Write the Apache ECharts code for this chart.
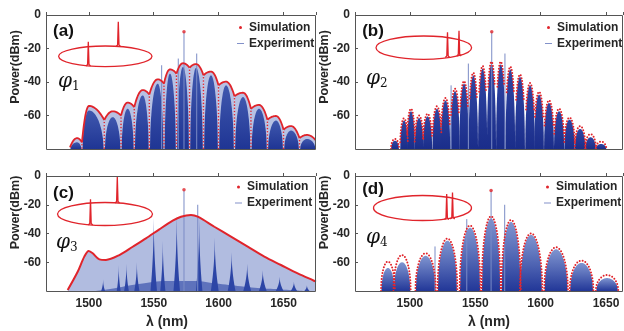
<!DOCTYPE html>
<html>
<head>
<meta charset="utf-8">
<script src="https://cdn.jsdelivr.net/npm/echarts@6/dist/echarts.min.js"></script>
<style>
  html, body { margin: 0; padding: 0; background: #fff; }
  #chart { width: 624px; height: 331px; }
</style>
</head>
<body>
<div id="chart"></div>
<script>
// ---------- data (wavelength nm, power dBm) ----------

// (a) phi1 : scalloped simulation envelope (peaks + cusps), measured lobes
var aPeakWl = [1490.9, 1500.1, 1518.4, 1529.9, 1541.5, 1553.1, 1562.5, 1572.5, 1582.6, 1594.1, 1605.7, 1618.8, 1631.1, 1644.2, 1655.8, 1668.1]
var aPeakDb = [-73.5, -54.3, -57.5, -52.3, -44.8, -38.4, -32.5, -28.8, -29.3, -33.8, -39.8, -46.4, -53.7, -60.3, -66.3, -71.6]
var aCuspWl = [1485.5, 1494.7, 1511.9, 1524.8, 1535.0, 1546.6, 1557.9, 1567.5, 1577.6, 1588.3, 1599.9, 1612.2, 1624.9, 1637.6, 1650.0, 1662.3, 1675.0]
var aCuspDb = [-79, -76, -62.7, -60, -55, -47.5, -41, -35, -31.5, -36, -42, -48.5, -56, -62.5, -68.5, -73.5, -75]
var aExpDb = [-76, -57, -61, -56, -48, -41, -35, -31, -31.5, -36, -42, -49, -56, -63, -69, -74]
var aSpikeWl = [1556.1, 1568.9, 1573.3, 1583.1]
var aSpikeDb = [-30, -26, -10, -23]
var aPump = [1573.3, -10]

// (b) phi2 : narrow lobes
var bWl = [1488.6, 1495.5, 1500.8, 1507.0, 1513.5, 1520.7, 1527.2, 1534.5, 1541.4, 1548.5, 1555.6, 1562.4, 1569.5, 1576.8, 1584.2, 1591.9, 1598.8, 1606.4, 1614.1, 1622.1, 1630.2, 1638.2, 1646.2]
var bSimDb = [-74, -61.7, -56, -60, -59, -54.5, -49.5, -44, -39.5, -34.5, -30.4, -27.9, -27.9, -30.8, -35.5, -40.6, -45.8, -51, -56, -61.2, -66.3, -71.1, -75.6]
var bExpDb = [-75, -63, -57.5, -61.5, -60.5, -56, -51, -45.5, -41, -36, -32, -29.5, -29.5, -32.5, -37, -42, -47.5, -52.5, -57.5, -62.5, -68, -73, -77]
var bHalf = [3.0, 2.9, 3.0, 3.3, 3.5, 3.5, 3.6, 3.6, 3.6, 3.6, 3.5, 3.5, 3.6, 3.7, 3.8, 3.7, 3.7, 3.8, 3.9, 4.0, 4.0, 4.0, 4.0]
var bSpikeWl = [1531.5, 1544.7, 1562.6, 1572.7]
var bSpikeDb = [-42, -29, -10, -23]
var bPump = [1562.6, -10]

// (c) phi3 : smooth envelope, comb clusters
var cWl = [1483.7, 1491.4, 1496.5, 1499.9, 1503.0, 1508.1, 1513.2, 1523.5, 1533.8, 1544.0, 1554.3, 1564.6, 1571.0, 1578.7, 1583.9, 1596.7, 1609.5, 1622.4, 1635.2, 1648.0, 1660.9, 1675.0]
var cSimDb = [-79.3, -66.6, -56.1, -52.2, -53.8, -58.0, -58.4, -55.0, -49.2, -43.4, -37.1, -31.1, -28.3, -27.1, -28.3, -35.3, -42.2, -49.2, -56.1, -61.9, -67.7, -73.5]
var cClusterWl = [1511, 1523, 1529, 1537, 1550, 1557, 1567.7, 1585, 1597, 1610, 1622, 1634, 1647, 1658, 1668]
var cClusterDb = [-72, -62, -61, -60, -29, -45, -27.5, -30, -43, -53, -61, -65.5, -70, -73.5, -76]
var cClusterHalf = [1.5, 1.5, 1.8, 2, 2.5, 2, 2.5, 2.5, 3, 3, 3, 3, 3, 2.5, 2]
var cFloorWl = [1505, 1520, 1540, 1560, 1580, 1600, 1620, 1640, 1665]
var cFloorDb = [-80, -78, -75, -73, -73, -75, -77, -78.5, -80]
var cSpikeWl = [1573.3, 1583.9]
var cSpikeDb = [-10, -20]
var cPump = [1573.3, -9.5]

// (d) phi4 : wide lobes
var dWl = [1483.2, 1494.0, 1512.0, 1528.7, 1546.0, 1562.1, 1577.4, 1592.7, 1611.8, 1631.3, 1650.8]
var dSimDb = [-59.5, -55, -53.8, -43.5, -34.5, -28, -30.6, -39.9, -49.6, -58.8, -68.9]
var dExpDb = [-64, -60, -55.5, -45, -36, -29.5, -32, -41, -51, -60.5, -71]
var dHalf = [5.0, 6.3, 7.5, 7.3, 7.7, 7.0, 7.2, 8.3, 8.8, 8.8, 8.3]
var dSpikeWl = [1519.2, 1543.5, 1562.1, 1572.5]
var dSpikeDb = [-49, -30, -10, -20]
var dPump = [1562.1, -10]

// ---------- look ----------
var FONT = "'Liberation Sans', Arial, sans-serif"
var FLOOR = -80
var RED = '#e0242b'
var INK = '#262626'
var SPIKE = '#7b8cc6'

var GRIDS = [
  { left: 46, top: 15, width: 270, height: 134 },
  { left: 355, top: 15, width: 268, height: 134 },
  { left: 46, top: 176, width: 270, height: 115 },
  { left: 355, top: 176, width: 268, height: 115 },
]

function vgrad(top, bottom) {
  return { type: 'linear', x: 0, y: 0, x2: 0, y2: 1, colorStops: [{ offset: 0, color: top }, { offset: 1, color: bottom }] }
}

// lobe: [centre, top, halfLeft, halfRight]
function lobeRenderer(p, q, fill) {
  return function (params, api) {
    var c = api.value(0), top = api.value(1), hl = api.value(2), hr = api.value(3)
    var pts = []
    for (var i = 0; i <= 40; i++) {
      var u = i / 20 - 1
      var hw = u < 0 ? hl : hr
      var h = Math.pow(Math.max(0, 1 - Math.pow(Math.abs(u), p)), 1 / q)
      pts.push(api.coord([c + u * hw, FLOOR + (top - FLOOR) * h]))
    }
    return { type: 'polygon', shape: { points: pts }, style: { fill: fill } }
  }
}

// dotted simulation arc over a lobe: [centre, top, half, cut]
function arcRenderer(width, dash) {
  return function (params, api) {
    var c = api.value(0), top = api.value(1), hw = api.value(2), cut = api.value(3)
    var pts = []
    for (var i = 0; i <= 80; i++) {
      var u = i / 40 - 1
      var db = FLOOR + (top - FLOOR) * Math.sqrt(Math.max(0, 1 - u * u))
      if (db >= top - cut) pts.push(api.coord([c + u * hw, db]))
    }
    return { type: 'polyline', shape: { points: pts }, style: { stroke: RED, fill: null, lineWidth: width, lineDash: dash, lineCap: 'round' } }
  }
}

// scallop: [cuspL, dbL, peak, dbPeak, cuspR, dbR]
function scallopRenderer(filled) {
  return function (params, api) {
    var xl = api.value(0), yl = api.value(1), xp = api.value(2), yp = api.value(3), xr = api.value(4), yr = api.value(5)
    var pts = []
    for (var i = 0; i <= 16; i++) {
      var u = 1 - i / 16
      pts.push(api.coord([xp - u * (xp - xl), yp + (yl - yp) * u * u]))
    }
    for (var j = 1; j <= 16; j++) {
      var v = j / 16
      pts.push(api.coord([xp + v * (xr - xp), yp + (yr - yp) * v * v]))
    }
    if (filled) {
      pts.push(api.coord([xr, FLOOR]))
      pts.push(api.coord([xl, FLOOR]))
      return { type: 'polygon', shape: { points: pts }, style: { fill: '#b7c1e3' } }
    }
    return { type: 'polyline', shape: { points: pts }, style: { stroke: RED, fill: null, lineWidth: 1.8 } }
  }
}

function dropRenderer(params, api) {
  var a = api.coord([api.value(0), api.value(1) - 1.5])
  var b = api.coord([api.value(0), FLOOR])
  return { type: 'line', shape: { x1: a[0], y1: a[1], x2: b[0], y2: b[1] }, style: { stroke: RED, lineWidth: 1.6, lineDash: [0, 3.2], lineCap: 'round' } }
}

function spikeRenderer(color) {
  return function (params, api) {
    var a = api.coord([api.value(0), api.value(1)])
    var b = api.coord([api.value(0), FLOOR])
    return { type: 'line', shape: { x1: a[0], y1: a[1], x2: b[0], y2: b[1] }, style: { stroke: color, lineWidth: 1 } }
  }
}

function zip(xs, ys) {
  return xs.map(function (x, i) { return [x, ys[i]] })
}

function custom(gi, z, name, render, data) {
  var s = { type: 'custom', xAxisIndex: gi, yAxisIndex: gi, z: z, silent: true, clip: true, renderItem: render, data: data }
  if (name) s.name = name
  return s
}

function pumpDot(gi, pt) {
  return { name: 'Simulation', type: 'scatter', xAxisIndex: gi, yAxisIndex: gi, z: 6, silent: true, symbolSize: 3.5, itemStyle: { color: RED }, data: [pt] }
}

var series = []

// (a)
var aArcRows = aPeakWl.map(function (w, i) {
  return [aCuspWl[i], aCuspDb[i], w, aPeakDb[i], aCuspWl[i + 1], aCuspDb[i + 1]]
})
var aLobeRows = aPeakWl.map(function (w, i) {
  return [w, aExpDb[i], w - aCuspWl[i] - 0.5, aCuspWl[i + 1] - w - 0.5]
})
series.push(custom(0, 1, null, scallopRenderer(true), aArcRows))
series.push(custom(0, 2, 'Experiment', lobeRenderer(2, 1.8, vgrad('#4058ae', '#1f3594')), aLobeRows))
series.push(custom(0, 3, null, spikeRenderer(SPIKE), zip(aSpikeWl, aSpikeDb)))
series.push(custom(0, 4, 'Simulation', scallopRenderer(false), aArcRows))
series.push(custom(0, 4, null, dropRenderer, zip(aCuspWl, aCuspDb).slice(1, -1)))
series.push(pumpDot(0, aPump))

// (b)
series.push(custom(1, 2, 'Experiment', lobeRenderer(2, 2, vgrad('#2f46a3', '#1a2d8a')),
  bWl.map(function (w, i) { return [w, bExpDb[i], bHalf[i], bHalf[i]] })))
series.push(custom(1, 3, null, spikeRenderer(SPIKE), zip(bSpikeWl, bSpikeDb)))
series.push(custom(1, 4, 'Simulation', arcRenderer(2, [0, 3]),
  bWl.map(function (w, i) { return [w, bSimDb[i], bHalf[i] + 0.1, 16] })))
series.push(pumpDot(1, bPump))

// (c)
series.push({
  type: 'line', xAxisIndex: 2, yAxisIndex: 2, z: 1, silent: true, smooth: 0.3, symbol: 'none',
  lineStyle: { width: 0 }, areaStyle: { color: '#b1bce0', opacity: 1, origin: 'start' },
  data: zip(cWl, cSimDb),
})
series.push({
  type: 'line', xAxisIndex: 2, yAxisIndex: 2, z: 2, silent: true, smooth: 0.4, symbol: 'none',
  lineStyle: { width: 0 }, areaStyle: { color: '#3a52ad', opacity: 0.7, origin: 'start' },
  data: zip(cFloorWl, cFloorDb),
})
series.push(custom(2, 2, 'Experiment', lobeRenderer(0.5, 1, '#2c45a6'),
  cClusterWl.map(function (w, i) { return [w, cClusterDb[i], cClusterHalf[i], cClusterHalf[i]] })))
series.push(custom(2, 3, null, spikeRenderer(SPIKE), zip(cSpikeWl, cSpikeDb)))
series.push({
  name: 'Simulation', type: 'line', xAxisIndex: 2, yAxisIndex: 2, z: 4, silent: true, smooth: 0.3, symbol: 'none',
  lineStyle: { color: RED, width: 2 }, data: zip(cWl, cSimDb),
})
series.push(pumpDot(2, cPump))

// (d)
series.push(custom(3, 2, 'Experiment', lobeRenderer(2, 2, vgrad('#8095d0', '#223798')),
  dWl.map(function (w, i) { return [w, dExpDb[i], dHalf[i], dHalf[i]] })))
series.push(custom(3, 3, null, spikeRenderer(SPIKE), zip(dSpikeWl, dSpikeDb)))
series.push(custom(3, 4, 'Simulation', arcRenderer(2, [0, 3]),
  dWl.map(function (w, i) { return [w, dSimDb[i], dHalf[i] + 0.3, 76] })))
series.push(pumpDot(3, dPump))

// ---------- axes ----------
var X_RANGE = [[1467, 1675], [1458, 1663], [1467, 1675], [1458, 1663]]
var NAME_SHIFT_Y = [30, 30, 42, 42]
var NAME_SHIFT_X = [0, 0, 28, 0]

var xAxes = GRIDS.map(function (g, gi) {
  var bottom = gi >= 2
  return {
    gridIndex: gi, type: 'value', min: X_RANGE[gi][0], max: X_RANGE[gi][1], splitNumber: 4,
    axisLine: { show: false },
    axisTick: { show: true, inside: true, length: 3, lineStyle: { color: '#555' } },
    splitLine: { show: false },
    axisLabel: {
      show: bottom, margin: 7, color: INK, fontFamily: FONT, fontWeight: 'bold', fontSize: 12,
      formatter: function (v) { return v % 50 === 0 ? String(v) : '' },
    },
    name: bottom ? 'λ (nm)' : '',
    nameLocation: 'middle', nameGap: 24, nameMoveOverlap: false,
    nameTextStyle: { color: INK, fontFamily: FONT, fontWeight: 'bold', fontSize: 14, padding: [0, NAME_SHIFT_X[gi], 0, 0] },
  }
})

var yAxes = GRIDS.map(function (g, gi) {
  return {
    gridIndex: gi, type: 'value', min: -80, max: 0, interval: 20,
    axisLine: { show: false },
    axisTick: { show: true, inside: true, length: 3, lineStyle: { color: '#555' } },
    splitLine: { show: false },
    axisLabel: { showMinLabel: false, margin: 5, color: INK, fontFamily: FONT, fontWeight: 'bold', fontSize: 12 },
    name: 'Power(dBm)', nameLocation: 'middle', nameGap: 24, nameMoveOverlap: false,
    nameTextStyle: { color: INK, fontFamily: FONT, fontWeight: 'bold', fontSize: 12.5, padding: [0, 0, 0, NAME_SHIFT_Y[gi]] },
  }
})

// ---------- legends ----------
var LEGEND_POS = [[237, 21.5], [545, 21.5], [235, 181], [544, 181]]
var legends = LEGEND_POS.map(function (p) {
  return {
    left: p[0], top: p[1], orient: 'vertical', padding: 0, itemGap: 4, itemWidth: 7, itemHeight: 3,
    selectedMode: false,
    textStyle: { color: INK, fontFamily: FONT, fontWeight: 'bold', fontSize: 12, lineHeight: 11 },
    data: [
      { name: 'Simulation', icon: 'circle', itemStyle: { color: RED } },
      { name: 'Experiment', icon: 'path://M0,0H8V1H0Z', itemStyle: { color: '#7182c2' } },
    ],
  }
})

// ---------- decorations: frames, ring insets, tags ----------
var graphics = []
GRIDS.forEach(function (g) {
  graphics.push({
    type: 'rect', z: 100, silent: true,
    shape: { x: g.left + 0.5, y: g.top + 0.5, width: g.width - 1, height: g.height },
    style: { fill: null, stroke: '#555', lineWidth: 1 },
  })
})

var INSETS = [
  { cx: 105.3, cy: 56.3, rx: 46.7, ry: 10.3, pulses: [[88.3, 66, 41.7], [118.3, 46.5, 21.7]] },
  { cx: 423.8, cy: 47.7, rx: 47.8, ry: 11.7, pulses: [[447.5, 57.5, 32.3], [459, 56, 30.7]] },
  { cx: 105, cy: 214, rx: 47.5, ry: 11.5, pulses: [[90.5, 225, 199.3], [117.3, 203, 177]] },
  { cx: 422.5, cy: 208, rx: 49, ry: 12.5, pulses: [[446.7, 219.5, 194], [452.5, 219, 192.5]] },
]
INSETS.forEach(function (r) {
  graphics.push({
    type: 'ellipse', z: 101, silent: true,
    shape: { cx: r.cx, cy: r.cy, rx: r.rx, ry: r.ry },
    style: { fill: null, stroke: RED, lineWidth: 1.3 },
  })
  r.pulses.forEach(function (p) {
    graphics.push({
      type: 'polyline', z: 101, silent: true,
      shape: { points: [[p[0] - 2.2, p[1]], [p[0] - 0.7, p[1] - 1.5], [p[0], p[2]], [p[0] + 0.7, p[1] - 1.5], [p[0] + 2.2, p[1]]] },
      style: { fill: null, stroke: RED, lineWidth: 1.3 },
    })
  })
})

var TAGS = ['(a)', '(b)', '(c)', '(d)']
var TAG_POS = [[63.5, 31.5], [373, 31.5], [63.5, 193.3], [373, 189]]
var PHI_POS = [[58, 82], [366, 79], [56, 242.5], [366, 237.5]]
TAGS.forEach(function (t, i) {
  graphics.push({
    type: 'text', z: 102, silent: true, x: TAG_POS[i][0], y: TAG_POS[i][1],
    style: { text: t, fill: '#111', font: 'bold 17px "Liberation Sans", Arial, sans-serif', align: 'center', verticalAlign: 'middle' },
  })
  graphics.push({
    type: 'text', z: 102, silent: true, x: PHI_POS[i][0], y: PHI_POS[i][1],
    style: {
      text: '{p|φ}{s|' + (i + 1) + '}', align: 'left', verticalAlign: 'middle',
      rich: {
        p: { fontFamily: 'DejaVu Serif', fontStyle: 'italic', fontSize: 20, fill: '#111' },
        s: { fontFamily: 'DejaVu Serif', fontSize: 12, fill: '#111', padding: [10, 0, 0, 0] },
      },
    },
  })
})

var chart = echarts.init(document.getElementById('chart'), null, { renderer: 'canvas' })
chart.setOption({
  animation: false,
  backgroundColor: '#fff',
  grid: GRIDS.map(function (g) { return { left: g.left, top: g.top, width: g.width, height: g.height, show: false, containLabel: false, outerBoundsMode: 'none' } }),
  xAxis: xAxes,
  yAxis: yAxes,
  legend: legends,
  series: series,
  graphic: graphics,
})
</script>
</body>
</html>
